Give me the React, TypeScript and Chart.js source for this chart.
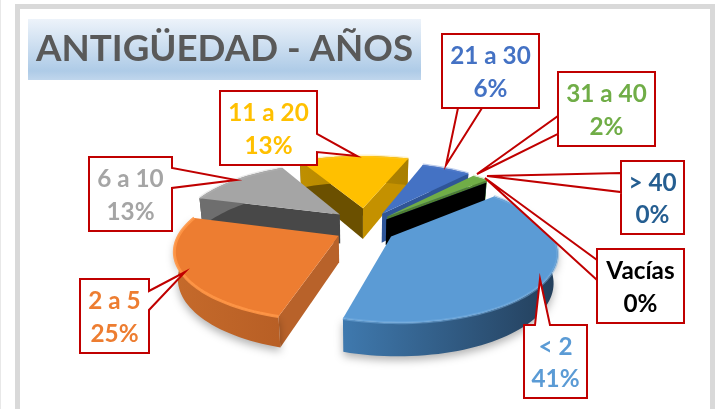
import React, { useEffect, useRef } from "react";
import { Chart, registerables } from "chart.js";

Chart.register(...registerables);

const TITLE = "ANTIGÜEDAD - AÑOS";
const CATEGORIES = ["< 2", "2 a 5", "6 a 10", "11 a 20", "21 a 30", "31 a 40", "> 40", "Vacías"];
const VALUES = [41, 25, 13, 13, 6, 2, 0, 0];
const SLICE_COLORS = ["#5B9BD5", "#ED7D31", "#A5A5A5", "#FFC000", "#4472C4", "#70AD47", "#255E91", "#000000"];
const LABEL_COLORS = ["#5B9BD5", "#ED7D31", "#A5A5A5", "#FFC000", "#4472C4", "#70AD47", "#255E91", "#000000"];

// 3D look of each slice
const START_WALL = ["#2F5F8F", "#B8622A", "#484848", "#6B5000", "#4472C4", "#4F7F32", "#1B4569", "#000000"];
const END_WALL = ["#3F7FB8", "#A8561F", "#5A5A5A", "#C49100", "#2F5597", "#4F7F32", "#1B4569", "#000000"];
const RIM_LEFT = ["#3F79AE", "#C56A2B", "#6E6E6E", "#BF8F00", "#2F5597", "#4F7F32", "#1B4569", "#000000"];
const RIM_RIGHT = ["#233E5A", "#B85F25", "#6E6E6E", "#A87E00", "#2F5597", "#4F7F32", "#1B4569", "#000000"];
const BEVEL = ["rgba(120,175,225,.5)", "rgba(255,150,70,.9)", "rgba(190,190,190,.3)", "rgba(255,210,70,.3)", "rgba(90,130,210,.4)", "rgba(130,190,90,.3)", "rgba(0,0,0,0)", "rgba(0,0,0,0)"];
const EXPLODE: [number, number][] = [[29, 38], [-20, 32], [-20, -9], [3, -20], [22, -11], [27, -9], [26, -6], [26, -6]];
const SLICE_RADIUS = [0.98, 0.98, 1, 1.06, 1, 1, 1, 1];
const SLICE_THICKNESS = [30, 28, 32, 34, 32, 30, 28, 28];
const DRAW_ORDER = [3, 4, 5, 6, 7, 2, 1, 0];
const TILT = (26 * Math.PI) / 180;
const CAMERA = 710;
const RADIUS_SCALE = 0.93;
const CENTER_SHIFT = { x: 0, y: 11 };

// Callouts: box [x, y, w, h], tail base points and tip, in the order of CATEGORIES
const BOXES = [[524, 325, 63, 73], [80, 279, 69, 74], [89, 157, 83, 74], [220, 91, 97, 74], [442, 34, 97, 74], [558, 72, 97, 74], [621, 161, 63, 73], [597, 249, 87, 74]];
const TAILS = [[[535, 325], [540, 279], [550, 325]], [[149, 291], [185, 272], [149, 310]], [[172, 168], [236, 180], [172, 188]], [[317, 134], [357, 156], [317, 152]], [[458, 108], [446, 165], [482, 108]], [[558, 116], [477, 174], [558, 134]], [[621, 173], [487, 176], [621, 192]], [[597, 260], [485, 178], [597, 280]]];
const CALLOUT_ORDER = [7, 6, 5, 4, 3, 2, 1, 0];
const FONT = "Lato, 'Open Sans', sans-serif";

const pieDepth = {
  id: "pieDepth",
  beforeDraw(chart: any) {
    const { ctx } = chart;
    ctx.save();
    ctx.fillStyle = "#E8E8E8";
    ctx.fillRect(0, 0, 1, 409);
    ctx.strokeStyle = "#D9D9D9";
    ctx.lineWidth = 5;
    ctx.strokeRect(17.5, 6.5, 695, 420);
    const g = ctx.createLinearGradient(0, 19, 0, 80);
    g.addColorStop(0, "#EDF3FA");
    g.addColorStop(0.85, "#AECBE7");
    g.addColorStop(1, "#C0D6EC");
    ctx.fillStyle = g;
    ctx.fillRect(28, 19, 393, 61);
    ctx.restore();
  },
  beforeDatasetsDraw(chart: any) {
    const { ctx } = chart;
    const arcs = chart.getDatasetMeta(0).data;
    const first = arcs[0].getProps(["x", "y", "outerRadius"], true);
    const cx = first.x + CENTER_SHIFT.x;
    const cy = first.y + CENTER_SHIFT.y;
    const sinT = Math.sin(TILT);
    const cosT = Math.cos(TILT);
    const proj = (X: number, F: number, Z: number) => {
      const s = CAMERA / (CAMERA - F * cosT - Z * sinT);
      return [cx + s * X, cy + s * (F * sinT - Z * cosT)];
    };
    const poly = (pts: number[][]) => {
      ctx.beginPath();
      pts.forEach((p, i) => (i ? ctx.lineTo(p[0], p[1]) : ctx.moveTo(p[0], p[1])));
      ctx.closePath();
    };
    const area = (pts: number[][]) =>
      pts.reduce((s, p, i) => {
        const q = pts[(i + 1) % pts.length];
        return s + p[0] * q[1] - q[0] * p[1];
      }, 0);
    for (const i of DRAW_ORDER) {
      const a = arcs[i].getProps(["startAngle", "endAngle"], true);
      const [ex, ef] = EXPLODE[i];
      const R = first.outerRadius * RADIUS_SCALE * SLICE_RADIUS[i];
      const H = SLICE_THICKNESS[i];
      const rimPts = (z: number) => {
        const n = Math.max(1, Math.ceil(((a.endAngle - a.startAngle) * 180) / Math.PI / 2));
        const out: number[][] = [];
        for (let k = 0; k <= n; k++) {
          const t = a.startAngle + ((a.endAngle - a.startAngle) * k) / n;
          out.push(proj(ex + R * Math.cos(t), ef + R * Math.sin(t), z));
        }
        return out;
      };
      const apexT = proj(ex, ef, H);
      const apexB = proj(ex, ef, 0);
      const top = rimPts(H);
      const bot = rimPts(0);
      // radial walls that face the viewer
      const startWall = [apexT, top[0], bot[0], apexB];
      const endWall = [apexT, top[top.length - 1], bot[bot.length - 1], apexB];
      if (area(startWall) < 0) {
        ctx.fillStyle = START_WALL[i];
        poly(startWall);
        ctx.fill();
      }
      if (area(endWall) > 0) {
        ctx.fillStyle = END_WALL[i];
        poly(endWall);
        ctx.fill();
      }
      // outer rim
      if (top.length > 2) {
        const xs = top.map((p) => p[0]);
        const g = ctx.createLinearGradient(Math.min(...xs), 0, Math.max(...xs), 0);
        g.addColorStop(0, RIM_LEFT[i]);
        g.addColorStop(1, RIM_RIGHT[i]);
        ctx.save();
        if (i < 2) {
          ctx.shadowColor = "rgba(0,0,0,.3)";
          ctx.shadowBlur = 9;
          ctx.shadowOffsetY = 4;
        }
        ctx.fillStyle = g;
        poly([...top, ...bot.slice().reverse()]);
        ctx.fill();
        ctx.restore();
      }
      // top face
      ctx.fillStyle = SLICE_COLORS[i];
      poly([apexT, ...top]);
      ctx.fill();
      if (top.length > 2) {
        ctx.strokeStyle = BEVEL[i];
        ctx.lineWidth = 3;
        ctx.lineJoin = "round";
        ctx.beginPath();
        top.forEach((p, k) => (k ? ctx.lineTo(p[0], p[1]) : ctx.moveTo(p[0], p[1])));
        ctx.stroke();
      }
    }
    return false;
  },
  afterDraw(chart: any) {
    const { ctx } = chart;
    ctx.save();
    const total = VALUES.reduce((s, v) => s + v, 0);
    for (const i of CALLOUT_ORDER) {
      const [x, y, w, h] = BOXES[i];
      const [p0, tip, p1] = TAILS[i];
      ctx.lineWidth = 2;
      ctx.strokeStyle = "#C00000";
      ctx.fillStyle = "#FFFFFF";
      ctx.lineJoin = "miter";
      ctx.beginPath();
      ctx.moveTo(x, y);
      const corners = [[x, y], [x + w, y], [x + w, y + h], [x, y + h]];
      const edge = p0[1] === y ? 0 : p0[0] === x + w ? 1 : p0[1] === y + h ? 2 : 3;
      for (let k = 1; k <= 4; k++) {
        if (k - 1 === edge) {
          ctx.lineTo(p0[0], p0[1]);
          ctx.lineTo(tip[0], tip[1]);
          ctx.lineTo(p1[0], p1[1]);
        }
        const c = corners[k % 4];
        ctx.lineTo(c[0], c[1]);
      }
      ctx.closePath();
      ctx.fill();
      ctx.stroke();
      ctx.fillStyle = LABEL_COLORS[i];
      ctx.font = `bold 24.3px ${FONT}`;
      ctx.textAlign = "center";
      ctx.textBaseline = "middle";
      const mx = x + w / 2;
      ctx.fillText(CATEGORIES[i], mx, y + h / 2 - 14.5);
      ctx.fillText(`${Math.round((VALUES[i] / total) * 100)}%`, mx, y + h / 2 + 18);
    }
    ctx.restore();
  },
};

export default function App() {
  const ref = useRef<HTMLCanvasElement>(null);
  useEffect(() => {
    document.body.style.margin = "0";
    const chart = new Chart(ref.current!, {
      type: "pie",
      data: {
        labels: CATEGORIES,
        datasets: [{ data: VALUES, backgroundColor: SLICE_COLORS, borderWidth: 0 }],
      },
      options: {
        responsive: false,
        animation: false,
        rotation: 48.5,
        layout: { padding: { left: 36, right: 35, top: 27, bottom: 7 } },
        plugins: {
          legend: { display: false },
          tooltip: { enabled: false },
          title: {
            display: true,
            text: TITLE,
            align: "start",
            color: "#595959",
            font: { family: FONT, size: 36.7, weight: "bold" },
            padding: { top: 0, bottom: 0 },
          },
        },
      },
      plugins: [pieDepth],
    } as any);
    return () => chart.destroy();
  }, []);
  return <canvas ref={ref} width={719} height={409} style={{ display: "block" }} />;
}
